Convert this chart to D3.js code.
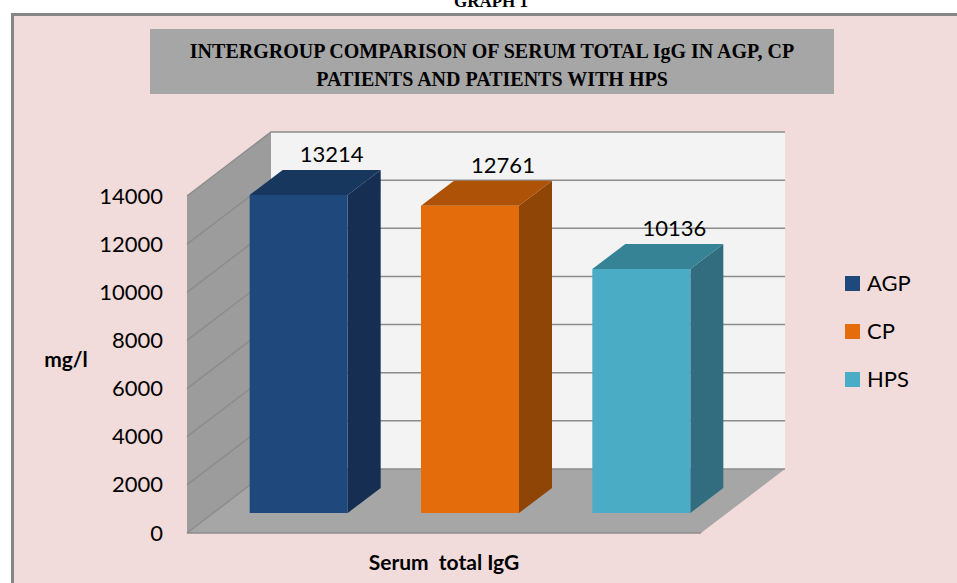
<!DOCTYPE html>
<html>
<head>
<meta charset="utf-8">
<script src="https://cdn.jsdelivr.net/npm/d3@7"></script>
<style>
  html, body { margin: 0; padding: 0; background: #fff; }
  svg { display: block; }
  text { fill: #000; }
  .sans { font-family: Lato, sans-serif; }
  .serif { font-family: "Liberation Serif", serif; font-weight: bold; }
</style>
</head>
<body>
<svg width="957" height="583"></svg>
<script>
const groups = ['AGP', 'CP', 'HPS']
const values = [13214, 12761, 10136]
const frontColors = ['#1f497d', '#e46c0a', '#4bacc6']
const topColors = ['#17375e', '#ae5207', '#378396']
const sideColors = ['#152e52', '#8f4506', '#316d7f']
const yTicks = [0, 2000, 4000, 6000, 8000, 10000, 12000, 14000]
const titleLines = ['INTERGROUP COMPARISON OF SERUM TOTAL IgG IN AGP, CP', 'PATIENTS AND PATIENTS WITH HPS']

const svg = d3.select('svg')
const width = +svg.attr('width')
const height = +svg.attr('height')

const margin = { left: 187, top: 196, right: 256, bottom: 50 }
const innerWidth = width - margin.left - margin.right
const innerHeight = height - margin.top - margin.bottom

// depth of the 3d box, and how far the bars stand in from the front edge
const depth = { x: 84, y: -64 }
const inset = { x: 26, y: -20 }
const barDepth = { x: 33, y: -25 }

const xScale = d3.scaleBand()
  .domain(groups)
  .range([0, innerWidth])
  .paddingInner(0.428)
  .paddingOuter(0.214)

const yScale = d3.scaleLinear()
  .domain([0, 14000])
  .range([innerHeight, 0])

const poly = pts => pts.map(p => p.join(',')).join(' ')

// page frame
svg.append('rect')
  .attr('x', 12.5).attr('y', 14.5)
  .attr('width', width).attr('height', height)
  .attr('fill', '#f2dcdb')
  .attr('stroke', '#868686')
  .attr('stroke-width', 3)

svg.append('text')
  .attr('class', 'serif')
  .attr('x', 491).attr('y', 7)
  .attr('text-anchor', 'middle')
  .attr('font-size', 17)
  .text('GRAPH 1')

// chart title
svg.append('rect')
  .attr('x', 150).attr('y', 29)
  .attr('width', 684).attr('height', 65)
  .attr('fill', '#a6a6a6')

svg.selectAll('.title').data(titleLines)
  .enter().append('text')
  .attr('class', 'title serif')
  .attr('x', 492)
  .attr('y', (d, i) => 58 + i * 27.5)
  .attr('text-anchor', 'middle')
  .attr('font-size', 20)
  .text(d => d)

const g = svg.append('g')
  .attr('transform', `translate(${margin.left}, ${margin.top})`)

// back wall
g.append('rect')
  .attr('x', depth.x)
  .attr('y', yScale(14000) + depth.y)
  .attr('width', innerWidth)
  .attr('height', innerHeight)
  .attr('fill', '#f3f3f3')

// left wall
g.append('polygon')
  .attr('points', poly([
    [0, yScale(0)],
    [0, yScale(14000)],
    [depth.x, yScale(14000) + depth.y],
    [depth.x, yScale(0) + depth.y]
  ]))
  .attr('fill', '#9c9c9c')

// floor
g.append('polygon')
  .attr('points', poly([
    [0, yScale(0)],
    [depth.x, yScale(0) + depth.y],
    [innerWidth + depth.x, yScale(0) + depth.y],
    [innerWidth, yScale(0)]
  ]))
  .attr('fill', '#a6a6a6')

// gridlines run along the left wall then the back wall
g.selectAll('.grid').data(yTicks)
  .enter().append('polyline')
  .attr('class', 'grid')
  .attr('points', d => poly([
    [0, yScale(d)],
    [depth.x, yScale(d) + depth.y],
    [innerWidth + depth.x, yScale(d) + depth.y]
  ]))
  .attr('fill', 'none')
  .attr('stroke', '#8c8c8c')
  .attr('stroke-width', 1.5)

g.append('line')
  .attr('x1', 0).attr('x2', innerWidth)
  .attr('y1', yScale(0)).attr('y2', yScale(0))
  .attr('stroke', '#8c8c8c')
  .attr('stroke-width', 1.5)

const yAxis = d3.axisLeft(yScale)
  .tickValues(yTicks)
  .tickFormat(d3.format('d'))
  .tickSize(0)
  .tickPadding(24)

const yAxisGroup = g.append('g').call(yAxis)
yAxisGroup.select('.domain').remove()
yAxisGroup.selectAll('text')
  .attr('class', 'sans')
  .attr('font-size', 22)
  .attr('fill', '#000')

const bars = g.selectAll('.bar').data(groups)
  .enter().append('g')
  .attr('class', 'bar')
  .attr('transform', `translate(${inset.x}, ${inset.y})`)

bars.append('polygon')
  .attr('points', (d, i) => {
    const x1 = xScale(d) + xScale.bandwidth()
    const y0 = yScale(values[i])
    return poly([[x1, yScale(0)], [x1, y0], [x1 + barDepth.x, y0 + barDepth.y], [x1 + barDepth.x, yScale(0) + barDepth.y]])
  })
  .attr('fill', (d, i) => sideColors[i])

bars.append('polygon')
  .attr('points', (d, i) => {
    const x0 = xScale(d)
    const x1 = x0 + xScale.bandwidth()
    const y0 = yScale(values[i])
    return poly([[x0, y0], [x0 + barDepth.x, y0 + barDepth.y], [x1 + barDepth.x, y0 + barDepth.y], [x1, y0]])
  })
  .attr('fill', (d, i) => topColors[i])

bars.append('rect')
  .attr('x', d => xScale(d))
  .attr('y', (d, i) => yScale(values[i]))
  .attr('width', xScale.bandwidth())
  .attr('height', (d, i) => yScale(0) - yScale(values[i]))
  .attr('fill', (d, i) => frontColors[i])

bars.append('text')
  .attr('class', 'sans')
  .attr('x', d => xScale(d) + xScale.bandwidth() / 2 + 33)
  .attr('y', (d, i) => yScale(values[i]) - 33)
  .attr('text-anchor', 'middle')
  .attr('font-size', 22)
  .text((d, i) => values[i])

// axis labels
svg.append('text')
  .attr('class', 'sans')
  .attr('x', 66).attr('y', 367)
  .attr('text-anchor', 'middle')
  .attr('font-size', 21)
  .attr('font-weight', 'bold')
  .text('mg/l')

svg.append('text')
  .attr('class', 'sans')
  .attr('x', 444).attr('y', 570)
  .attr('text-anchor', 'middle')
  .attr('font-size', 21)
  .attr('font-weight', 'bold')
  .attr('xml:space', 'preserve')
  .style('white-space', 'pre')
  .text('Serum  total IgG')

// legend
const legend = svg.selectAll('.legend').data(groups)
  .enter().append('g')
  .attr('class', 'legend')
  .attr('transform', (d, i) => `translate(845, ${276 + i * 48})`)

legend.append('rect')
  .attr('width', 15).attr('height', 15)
  .attr('fill', (d, i) => frontColors[i])

legend.append('text')
  .attr('class', 'sans')
  .attr('x', 22).attr('y', 15)
  .attr('font-size', 22)
  .text(d => d)
</script>
</body>
</html>
